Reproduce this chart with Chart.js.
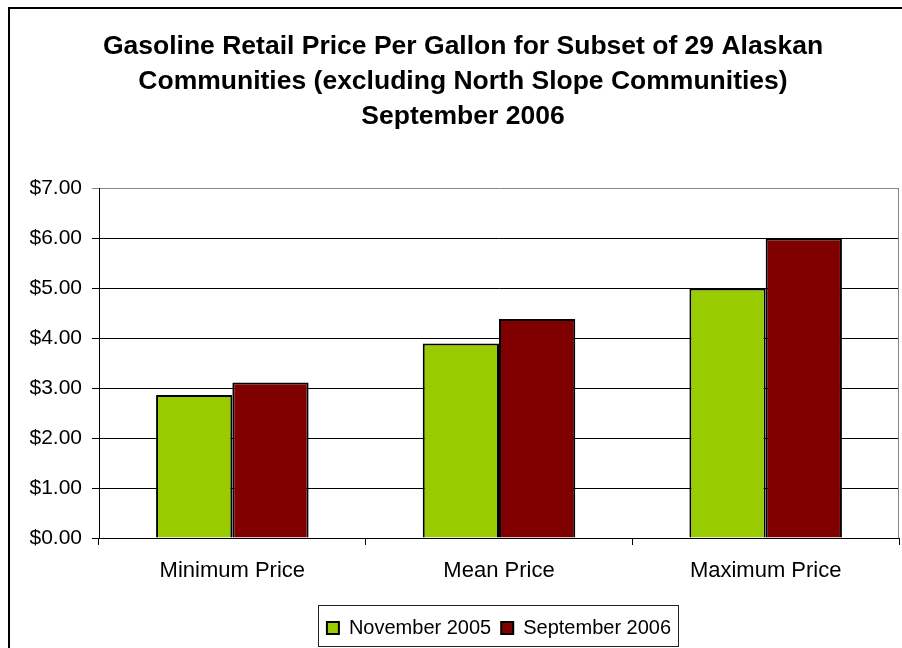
<!DOCTYPE html>
<html>
<head>
<meta charset="utf-8">
<script src="https://cdn.jsdelivr.net/npm/chart.js@4"></script>
<style>
  html, body { margin: 0; padding: 0; background: #fff; overflow: hidden; }
  #wrap { width: 902px; height: 648px; }
</style>
</head>
<body>
<div id="wrap"><canvas id="gasChart" width="902" height="648"></canvas></div>
<script>
const categories = ['Minimum Price', 'Mean Price', 'Maximum Price'];
const nov2005 = [2.86, 3.89, 4.99];
const sep2006 = [3.11, 4.38, 5.99];
const titleLines = [
  'Gasoline Retail Price Per Gallon for Subset of 29 Alaskan',
  'Communities (excluding North Slope Communities)',
  'September 2006'
];

const FONT = "'Liberation Sans', Arial, sans-serif";

// outer chart frame (runs off the picture on the right and bottom) + legend box
const framePlugin = {
  id: 'frame',
  beforeDraw(chart) {
    const c = chart.ctx;
    c.save();
    c.fillStyle = '#fff';
    c.fillRect(0, 0, chart.width, chart.height);
    c.strokeStyle = '#000';
    c.lineWidth = 2;
    c.strokeRect(9, 8, 2000, 2000);
    c.restore();
  },
  afterDraw(chart) {
    const boxes = chart.legend.legendHitBoxes;
    if (!boxes || !boxes.length) return;
    const left = Math.min(...boxes.map(b => b.left)) - 9;
    const right = Math.max(...boxes.map(b => b.left + b.width)) + 7;
    const mid = boxes[0].top + boxes[0].height / 2;
    const c = chart.ctx;
    c.save();
    c.strokeStyle = '#222';
    c.lineWidth = 1;
    c.strokeRect(Math.round(left) + 0.5, Math.round(mid - 23) + 0.5, Math.round(right - left), 41);
    // gray plot-area edge on the right
    const a = chart.chartArea;
    c.strokeStyle = '#888';
    c.beginPath();
    c.moveTo(a.right - 0.5, a.top);
    c.lineTo(a.right - 0.5, a.bottom);
    c.stroke();
    c.restore();
  }
};

new Chart(document.getElementById('gasChart'), {
  type: 'bar',
  data: {
    labels: categories,
    datasets: [{
      label: 'November 2005',
      data: nov2005,
      backgroundColor: '#99CC00',
      borderColor: '#000',
      borderWidth: 2
    }, {
      label: 'September 2006',
      data: sep2006,
      backgroundColor: '#800000',
      borderColor: '#000',
      borderWidth: 2
    }]
  },
  plugins: [framePlugin],
  options: {
    responsive: false,
    animation: false,
    layout: { padding: { left: 27, right: 3, top: 0, bottom: 0 } },
    datasets: { bar: { categoryPercentage: 0.572, barPercentage: 1.0 } },
    plugins: {
      title: {
        display: true,
        text: titleLines,
        color: '#000',
        font: { family: FONT, size: 26.5, weight: 'bold', lineHeight: 35 / 26.5 },
        padding: { top: 29.5, bottom: 53.5 }
      },
      legend: {
        position: 'bottom',
        fullSize: false,
        labels: {
          color: '#000',
          font: { family: FONT, size: 20 },
          boxWidth: 12,
          boxHeight: 12,
          padding: 10
        }
      },
      tooltip: { enabled: false }
    },
    scales: {
      x: {
        grid: {
          offset: true,
          drawOnChartArea: false,
          drawTicks: true,
          tickLength: 7,
          color: '#000'
        },
        border: { color: '#000', width: 1 },
        ticks: { color: '#000', font: { family: FONT, size: 22 }, padding: 13 },
        afterFit(scale) { scale.height = 70; }
      },
      y: {
        min: 0,
        max: 7,
        ticks: {
          stepSize: 1,
          color: '#000',
          padding: 10,
          font: { family: FONT, size: 21 },
          callback: v => '$' + Number(v).toFixed(2)
        },
        grid: {
          color: ctx => (ctx.tick && ctx.tick.value === 7 ? '#888' : '#000'),
          tickLength: 7,
          lineWidth: 1
        },
        border: { color: '#000', width: 1 },
        afterFit(scale) { scale.width = 72; }
      }
    }
  }
});
</script>
</body>
</html>
